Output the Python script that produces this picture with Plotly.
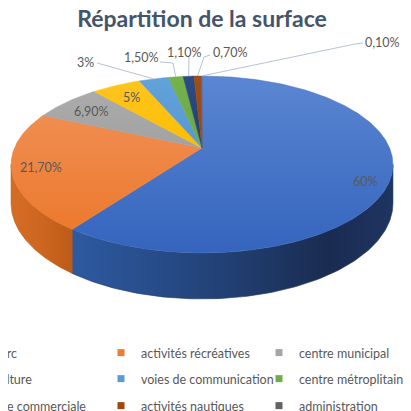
import numpy as np
import plotly.graph_objects as go

# ---------------- data ----------------
categories = ["parc", "activités récréatives", "centre municipal",
              "culture", "voies de communication", "centre métroplitain",
              "aire commerciale", "activités nautiques", "administration"]
shares = [60, 21.7, 6.9, 5, 3, 1.5, 1.1, 0.7, 0.1]
value_labels = ["60%", "21,70%", "6,90%", "5%", "3%", "1,50%", "1,10%", "0,70%", "0,10%"]

# ---------------- styles ----------------
base_colors = ["#4472C4", "#ED7D31", "#A5A5A5", "#FFC000", "#5B9BD5",
               "#70AD47", "#264478", "#9E480E", "#636363"]
top_grad = [("#5b86d2", "#3464bd"), ("#f08d51", "#ec7a2e"), ("#ababab", "#a2a2a2"),
            ("#ffc520", "#fbbd00"), ("#62a2da", "#5897d2"), ("#75b24c", "#6aa843"),
            ("#2b4c84", "#243f70"), ("#a44d12", "#98450d"), ("#676767", "#5f5f5f")]
side_scales = [
    [[0, "#2d5aa2"], [0.5, "#213f72"], [0.8, "#1a2b50"], [1, "#1e3562"]],
    [[0, "#d66d25"], [0.5, "#cc6620"], [1, "#bd5b18"]],
]
TEXT_COLOR = "#595959"
LEADER_COLOR = "#b7c2d6"
FONT = "Lato"

W = H = 411
OFF = 8  # page offset of the figure (body margin); coordinates below are page pixels

# pie geometry (page pixels, perspective projection of a disc)
CX, CY = 202.0, 148.0
RA, RB, K = 187.6, 85.4, 0.1864
DEPTH = 37.4

inside_radius = {0: 0.87, 1: 0.85, 2: 0.80, 3: 0.80}
inside_dy = {0: 9, 1: 0, 2: 1, 3: 1}
outside_text_xy = {4: (85, 62), 5: (141, 57), 6: (184, 52), 7: (230, 52), 8: (382, 42)}
outside_leader = {4: [(97, 63)], 5: [(160, 62), (173, 63)], 6: [(189, 57)],
                  7: [(210, 55), (204, 57)], 8: [(363, 43), (355, 44)]}

legend_text_x = [-6.5, 141.0, 299.0]    # page x where legend text starts, per column
legend_row_y = [353, 379, 406]          # page y of legend rows
LEGEND_TEXT_OFF = 40                    # distance legend left -> text start


def proj(theta_deg, f=1.0, drop=False):
    th = np.radians(theta_deg)
    u = f * np.sin(th)
    v = f * np.cos(th)
    d = 1 + K * v
    x = CX + RA * u / d
    y = CY - RB * v / d
    if drop:
        y = y + DEPTH / d
    return x, y


shares_arr = np.array(shares, dtype=float)
ends = np.cumsum(shares_arr) / shares_arr.sum() * 360.0
starts = np.concatenate([[0.0], ends[:-1]])
mids = (starts + ends) / 2

front_lo = 90 + np.degrees(np.arcsin(K))
front_hi = 270 - np.degrees(np.arcsin(K))

fig = go.Figure()

# side walls (front, visible part)
for i, (a, b) in enumerate(zip(starts, ends)):
    lo, hi = max(a, front_lo), min(b, front_hi)
    if hi <= lo:
        continue
    t = np.linspace(lo, hi, 120)
    xt, yt = proj(t)
    xb, yb = proj(t[::-1], drop=True)
    xs = np.concatenate([xt, xb, xt[:1]])
    ys = np.concatenate([yt, yb, yt[:1]])
    scale = side_scales[i] if i < len(side_scales) else [[0, base_colors[i]], [1, base_colors[i]]]
    fig.add_trace(go.Scatter(
        x=xs, y=ys, mode="lines", fill="toself",
        line=dict(width=0.6, color=scale[-1][1]),
        fillcolor=base_colors[i],
        fillgradient=dict(type="horizontal", colorscale=scale,
                          start=float(xs.min()), stop=float(xs.max())),
        hoverinfo="skip", showlegend=False))

# top faces
for i, (a, b) in enumerate(zip(starts, ends)):
    n = max(8, int((b - a) * 2))
    t = np.linspace(a, b, n)
    xr, yr = proj(t)
    xs = np.concatenate([[CX], xr, [CX]])
    ys = np.concatenate([[CY], yr, [CY]])
    c0, c1 = top_grad[i]
    fig.add_trace(go.Scatter(
        x=xs, y=ys, mode="lines", fill="toself",
        line=dict(width=0.5, color=base_colors[i]),
        fillcolor=base_colors[i],
        fillgradient=dict(type="vertical", colorscale=[[0, c0], [1, c1]],
                          start=float(ys.min()), stop=float(ys.max())),
        name=categories[i], hoverinfo="skip", showlegend=False))

annotations = []
# inside labels
for i, f in inside_radius.items():
    x, y = proj(mids[i], f)
    annotations.append(dict(x=x, y=y + inside_dy[i], text=value_labels[i],
                            showarrow=False, xanchor="center", yanchor="middle",
                            font=dict(family=FONT, size=12.5, color=TEXT_COLOR)))
# outside labels with leader lines
for i, (tx, ty) in outside_text_xy.items():
    rx, ry = proj(mids[i])
    pts = outside_leader[i] + [(rx, ry)]
    fig.add_trace(go.Scatter(x=[p[0] for p in pts], y=[p[1] for p in pts],
                             mode="lines", line=dict(color=LEADER_COLOR, width=1),
                             hoverinfo="skip", showlegend=False))
    annotations.append(dict(x=tx, y=ty, text=value_labels[i], showarrow=False,
                            xanchor="center", yanchor="middle",
                            font=dict(family=FONT, size=12.5, color=TEXT_COLOR)))

# legend entries: one small legend per entry, laid out in a 3x3 grid
legends = {}
for i, cat in enumerate(categories):
    lname = "legend" if i == 0 else f"legend{i + 1}"
    fig.add_trace(go.Scatter(
        x=[None], y=[None], mode="markers", name=cat,
        marker=dict(symbol="square", size=7, color=base_colors[i]),
        legend=lname, showlegend=True))
    col, row = i % 3, i // 3
    legends[lname] = dict(
        orientation="h", xanchor="left", yanchor="middle",
        x=(legend_text_x[col] - LEGEND_TEXT_OFF - OFF) / W,
        y=1 - (legend_row_y[row] - OFF) / H,
        bgcolor="rgba(0,0,0,0)", borderwidth=0,
        font=dict(family=FONT, size=12.5, color=TEXT_COLOR))

fig.update_layout(
    width=W, height=H,
    margin=dict(l=0, r=0, t=0, b=0, autoexpand=False),
    paper_bgcolor="white", plot_bgcolor="white",
    xaxis=dict(range=[OFF, OFF + W], visible=False, fixedrange=True),
    yaxis=dict(range=[OFF + H, OFF], visible=False, fixedrange=True),
    title=dict(text="<b>Répartition de la surface</b>", x=(202 - OFF) / W, xanchor="center",
               y=1 - (19 - OFF) / H, yanchor="middle", yref="container",
               font=dict(family=FONT, size=23, color="#44546a")),
    annotations=annotations,
    showlegend=True,
    **legends,
)

fig.write_html("out.html")
